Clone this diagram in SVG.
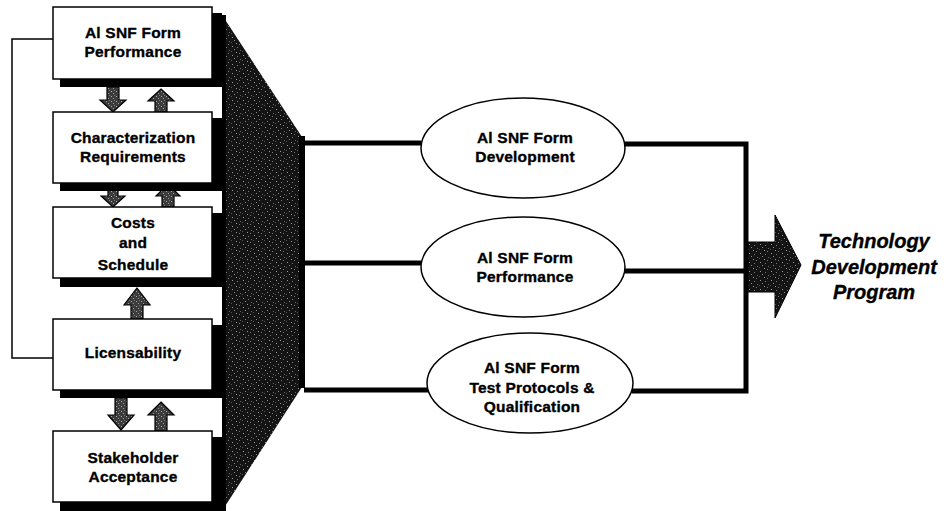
<svg xmlns="http://www.w3.org/2000/svg" width="950" height="511" viewBox="0 0 950 511">
  <defs>
    <!-- dark stipple used for the funnel block and the output arrow -->
    <pattern id="stipple" width="11" height="9" patternUnits="userSpaceOnUse">
      <rect width="11" height="9" fill="#141414"/>
      <rect x="1" y="1" width="1" height="1" fill="#9a9a9a"/>
      <rect x="6" y="2" width="1" height="1" fill="#777"/>
      <rect x="3" y="4" width="1" height="1" fill="#888"/>
      <rect x="9" y="5" width="1" height="1" fill="#666"/>
      <rect x="5" y="7" width="1" height="1" fill="#999"/>
      <rect x="0" y="6" width="1" height="1" fill="#555"/>
      <rect x="8" y="8" width="1" height="1" fill="#777"/>
    </pattern>
    <!-- lighter stipple for the small exchange arrows -->
    <pattern id="stippleLight" width="5" height="5" patternUnits="userSpaceOnUse">
      <rect width="5" height="5" fill="#3c3c3c"/>
      <rect x="1" y="1" width="1" height="1" fill="#aaa"/>
      <rect x="3" y="3" width="1" height="1" fill="#999"/>
      <rect x="4" y="0" width="1" height="1" fill="#777"/>
    </pattern>
    <style>
      .box { fill: #fff; stroke: #000; stroke-width: 1.5; }
      .shadow { fill: #000; }
      .oval { fill: #fff; stroke: #000; stroke-width: 1.5; }
      .lbl { font-family: "Liberation Sans", Arial, sans-serif; font-weight: bold; font-size: 15.5px; letter-spacing: 0.2px; fill: #000; stroke: #000; stroke-width: 0.35; text-anchor: middle; }
      .out { font-family: "Liberation Sans", Arial, sans-serif; font-weight: bold; font-style: italic; font-size: 20px; fill: #000; stroke: #000; stroke-width: 0.35; text-anchor: middle; }
      .bar { fill: none; stroke: #000; stroke-width: 5; }
      .thin { fill: none; stroke: #000; stroke-width: 1.5; }
      .xarrow { fill: url(#stippleLight); stroke: #000; stroke-width: 1.2; }
    </style>
  </defs>

  <!-- funnel block merging the left column into the three tracks -->
  <g id="funnel">
    <polygon points="222,15 302,137 302,387 222,511" fill="url(#stipple)"/>
    <rect x="222" y="15" width="4" height="496" fill="#000"/>
    <rect x="299" y="136" width="6" height="252" fill="#000"/>
  </g>

  <!-- connectors -->
  <g id="connectors">
    <!-- feedback loop from Licensability back to form performance -->
    <polyline class="thin" points="53,39 12,39 12,358 53,358"/>
    <!-- funnel to ovals -->
    <line class="bar" x1="304" y1="143" x2="421" y2="143"/>
    <line class="bar" x1="304" y1="263" x2="421" y2="263"/>
    <line class="bar" x1="304" y1="390" x2="428" y2="390"/>
    <!-- ovals to collector -->
    <polyline class="bar" points="624,144 746,144 746,391 632,391"/>
    <line class="bar" x1="624" y1="271" x2="746" y2="271"/>
    <!-- exchange arrows between the left boxes -->
    <polygon class="xarrow" points="107,87 119,87 119,100 126,100 113,112 100,100 107,100"/>
    <polygon class="xarrow" points="161,89 174,101 167,101 167,112 155,112 155,101 148,101"/>
    <polygon class="xarrow" points="108,190 118,190 118,196 125,196 113,207 101,196 108,196"/>
    <polygon class="xarrow" points="168,184 180,196 174,196 174,207 162,207 162,196 156,196"/>
    <polygon class="xarrow" points="137,288 150,305 143,305 143,319 131,319 131,305 124,305"/>
    <polygon class="xarrow" points="115,398 127,398 127,415 134,415 121,430 108,415 115,415"/>
    <polygon class="xarrow" points="161,402 174,415 167,415 167,431 155,431 155,415 148,415"/>
    <!-- output arrow -->
    <polygon points="748,242 775,242 775,215 801,265 775,318 775,292 748,292" fill="url(#stipple)" stroke="#000" stroke-width="1"/>
  </g>

  <g id="box-performance">
    <rect class="shadow" x="60" y="13" width="162" height="74"/>
    <rect class="box" x="53" y="7" width="159" height="72"/>
    <text class="lbl" x="133" y="38">Al SNF Form</text>
    <text class="lbl" x="133" y="57">Performance</text>
  </g>

  <g id="box-characterization">
    <rect class="shadow" x="60" y="118" width="162" height="73"/>
    <rect class="box" x="53" y="112" width="159" height="71"/>
    <text class="lbl" x="133" y="143">Characterization</text>
    <text class="lbl" x="133" y="162">Requirements</text>
  </g>

  <g id="box-costs">
    <rect class="shadow" x="60" y="213" width="162" height="74"/>
    <rect class="box" x="53" y="207" width="159" height="71"/>
    <text class="lbl" x="133" y="228">Costs</text>
    <text class="lbl" x="133" y="248">and</text>
    <text class="lbl" x="133" y="270">Schedule</text>
  </g>

  <g id="box-licensability">
    <rect class="shadow" x="60" y="325" width="162" height="73"/>
    <rect class="box" x="53" y="319" width="159" height="71"/>
    <text class="lbl" x="133" y="358">Licensability</text>
  </g>

  <g id="box-stakeholder">
    <rect class="shadow" x="60" y="437" width="162" height="74"/>
    <rect class="box" x="53" y="431" width="159" height="71"/>
    <text class="lbl" x="133" y="463">Stakeholder</text>
    <text class="lbl" x="133" y="482">Acceptance</text>
  </g>

  <g id="oval-development">
    <ellipse class="oval" cx="523" cy="148" rx="102" ry="50"/>
    <text class="lbl" x="525" y="143">Al SNF Form</text>
    <text class="lbl" x="525" y="162">Development</text>
  </g>

  <g id="oval-performance">
    <ellipse class="oval" cx="523" cy="267" rx="102" ry="50"/>
    <text class="lbl" x="525" y="263">Al SNF Form</text>
    <text class="lbl" x="525" y="282">Performance</text>
  </g>

  <g id="oval-testing">
    <ellipse class="oval" cx="530" cy="383" rx="103" ry="50"/>
    <text class="lbl" x="532" y="373">Al SNF Form</text>
    <text class="lbl" x="532" y="393">Test Protocols &amp;</text>
    <text class="lbl" x="532" y="412">Qualification</text>
  </g>

  <g id="program-label">
    <text class="out" x="874" y="248">Technology</text>
    <text class="out" x="874" y="274">Development</text>
    <text class="out" x="874" y="299">Program</text>
  </g>
</svg>
